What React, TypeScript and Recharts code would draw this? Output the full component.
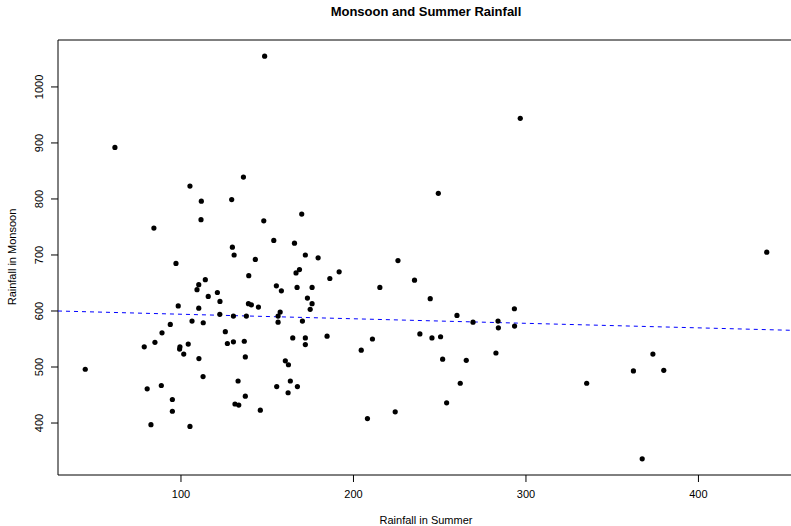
import { ScatterChart, Scatter, XAxis, YAxis, ReferenceArea, ReferenceLine } from 'recharts';

const summer = [
  44.5, 61.7, 84.3, 97.1, 105.2, 111.8, 111.6, 114.1, 110.3, 109.3, 115.8, 121.1, 122.6, 98.4, 110.3, 122.5,
  93.8, 106.4, 112.9, 89.0, 84.9, 78.7, 99.4, 99.2, 104.2, 101.6, 110.4, 112.8, 80.4, 88.6, 95.0, 95.0,
  82.6, 105.2, 136.2, 129.4, 170.0, 148.0, 153.8, 165.8, 129.8, 130.8, 172.1, 179.5, 143.1, 168.7, 166.7, 139.3,
  155.3, 158.2, 167.3, 176.0, 173.3, 176.0, 174.9, 139.1, 140.8, 144.9, 130.4, 137.9, 156.3, 157.5, 156.3, 170.4,
  125.7, 126.9, 130.4, 136.7, 137.3, 164.8, 172.1, 172.1, 160.5, 162.3, 133.1, 163.4, 155.5, 167.5, 162.1, 137.3,
  131.3, 133.5, 146.0, 191.7, 186.3, 225.8, 235.4, 215.3, 244.5, 184.7, 211.0, 204.5, 238.5, 224.2, 208.1, 249.2,
  260.0, 269.3, 283.8, 284.0, 293.3, 293.4, 245.5, 250.5, 251.7, 265.4, 282.6, 261.9, 254.0, 335.2, 439.6, 373.6,
  362.3, 379.9, 367.4, 148.5, 296.7,
];

const monsoon = [
  496, 892, 748, 685, 823, 796, 763, 656, 647, 638, 626, 633, 617, 609, 605, 594,
  576, 582, 579, 561, 544, 536, 536, 532, 541, 523, 515, 483, 461, 467, 442, 421,
  397, 394, 839, 799, 773, 761, 726, 721, 714, 700, 700, 695, 692, 674, 668, 663,
  645, 636, 642, 642, 623, 613, 603, 613, 611, 607, 591, 591, 591, 598, 580, 582,
  563, 542, 545, 546, 518, 552, 552, 540, 511, 504, 475, 475, 465, 465, 454, 448,
  434, 432, 423, 670, 658, 690, 655, 642, 622, 555, 550, 530, 559, 420, 408, 810,
  592, 580, 582, 570, 604, 573, 552, 554, 514, 512, 525, 471, 436, 471, 705, 523,
  493, 494, 336, 1055, 944,
];

// fitted line read at both ends of the plot
const fitX = [28.7, 455.4];
const fitY = [600.0, 565.4];

const xTicks = [100, 200, 300, 400];
const yTicks = [400, 500, 600, 700, 800, 900, 1000];

const xDomain = [28.7, 455.4];
const yDomain = [307.2, 1083.8];

const points = summer.map((s, i) => ({ summer: s, monsoon: monsoon[i] }));

const font = '"Liberation Sans", Arial, Helvetica, sans-serif';

const XTick = ({ x, payload }: any) => (
  <text x={x} y={498} textAnchor="middle" fontSize={11} fontFamily={font} fill="#000">
    {payload.value}
  </text>
);

const YTick = ({ y, payload }: any) => (
  <text
    x={39.5}
    y={y}
    transform={`rotate(-90, 39.5, ${y})`}
    textAnchor="middle"
    dominantBaseline="central"
    fontSize={11}
    fontFamily={font}
    fill="#000"
  >
    {payload.value}
  </text>
);

const Dot = (props: any) => <circle cx={props.cx} cy={props.cy} r={2.6} fill="#000" />;

export default function App() {
  return (
    <div
      style={{
        position: 'absolute',
        left: 0,
        top: 0,
        width: 791,
        height: 526,
        overflow: 'hidden',
        background: '#fff',
        fontFamily: font,
      }}
    >
      <div
        style={{
          position: 'absolute',
          left: 226,
          width: 400,
          top: 4,
          textAlign: 'center',
          fontSize: 13,
          fontWeight: 'bold',
          lineHeight: '16px',
        }}
      >
        Monsoon and Summer Rainfall
      </div>
      <div
        style={{
          position: 'absolute',
          left: 226,
          width: 400,
          top: 513,
          textAlign: 'center',
          fontSize: 11,
          lineHeight: '14px',
        }}
      >
        Rainfall in Summer
      </div>
      <div
        style={{
          position: 'absolute',
          left: 12 - 100,
          top: 257 - 7,
          width: 200,
          textAlign: 'center',
          fontSize: 11,
          lineHeight: '14px',
          transform: 'rotate(-90deg)',
        }}
      >
        Rainfall in Monsoon
      </div>
      <ScatterChart width={794} height={526} margin={{ top: 40, right: 0, bottom: 0, left: 0 }}>
        <XAxis
          type="number"
          dataKey="summer"
          domain={xDomain}
          ticks={xTicks}
          allowDataOverflow
          height={51}
          axisLine={false}
          tickLine={{ stroke: '#000' }}
          tickSize={7}
          tick={<XTick />}
        />
        <YAxis
          type="number"
          dataKey="monsoon"
          domain={yDomain}
          ticks={yTicks}
          allowDataOverflow
          width={58}
          axisLine={false}
          tickLine={{ stroke: '#000' }}
          tickSize={7}
          tick={<YTick />}
        />
        <ReferenceArea
          x1={xDomain[0]}
          x2={xDomain[1]}
          y1={yDomain[0]}
          y2={yDomain[1]}
          fill="none"
          fillOpacity={0}
          stroke="#000"
          strokeWidth={1}
        />
        <ReferenceLine
          segment={[
            { x: fitX[0], y: fitY[0] },
            { x: fitX[1], y: fitY[1] },
          ]}
          stroke="#0000ff"
          strokeDasharray="4 4"
          strokeWidth={1}
        />
        <Scatter data={points} shape={<Dot />} isAnimationActive={false} />
      </ScatterChart>
    </div>
  );
}
